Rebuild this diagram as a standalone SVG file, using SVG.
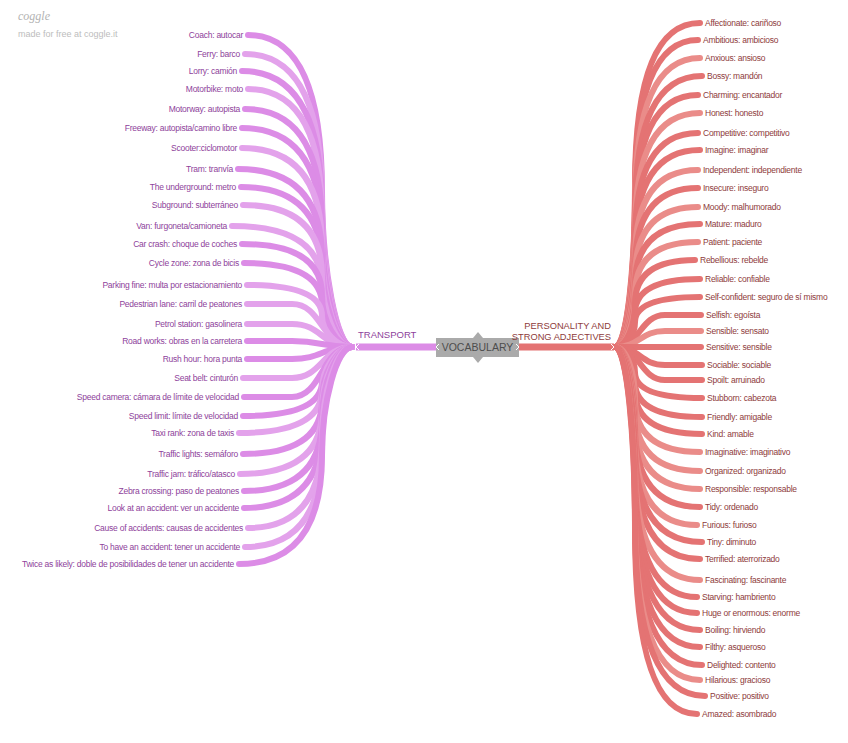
<svg xmlns="http://www.w3.org/2000/svg" width="848" height="743" viewBox="0 0 848 743">
<style>
text{font-family:"Liberation Sans",Arial,sans-serif}
.lt{font-size:8.5px;letter-spacing:-0.25px;fill:#8e3f9b;text-anchor:end}
.rt{font-size:8.5px;letter-spacing:-0.25px;fill:#8e3b3b}
.lc{fill:none;stroke:#dc8ce6;stroke-width:6;stroke-linecap:round}
.lc2{fill:none;stroke:#e3a2eb;stroke-width:6;stroke-linecap:round}
.rc{fill:none;stroke:#e47373;stroke-width:6;stroke-linecap:round}
.rc2{fill:none;stroke:#ea8c89;stroke-width:6;stroke-linecap:round}
.chev{fill:none;stroke:#fff;stroke-width:1}
</style>
<rect width="848" height="743" fill="#fff"/>
<g id="logo">
<text x="18" y="20" style="font-family:'Liberation Serif',serif;font-style:italic;font-size:12px;fill:#b3b3b3">coggle</text>
<text x="18" y="37" style="font-size:9px;fill:#bdbdbd">made for free at coggle.it</text>
</g>
<g id="connectors">
<path d="M436 347 L356 347" style="fill:none;stroke:#dc8ce6;stroke-width:7"/>
<path d="M519 347 L614 347" style="fill:none;stroke:#e47373;stroke-width:7"/>
<path class="lc" d="M352 347 C337 347 322 269 322 191 Q322 35 248 35"/>
<path class="lc2" d="M352 347 C337 347 322 273.75 322 200.5 Q322 54 245 54"/>
<path class="lc" d="M352 347 C337 347 322 278 322 209 Q322 71 242 71"/>
<path class="lc2" d="M352 347 C337 347 322 282.5 322 218 Q322 89 248 89"/>
<path class="lc" d="M352 347 C337 347 322 287.5 322 228 Q322 109 245 109"/>
<path class="lc" d="M352 347 C337 347 322 292.25 322 237.5 Q322 128 242 128"/>
<path class="lc2" d="M352 347 C337 347 322 297.25 322 247.5 Q322 148 242 148"/>
<path class="lc" d="M352 347 C337 347 322 302.5 322 258 Q322 169 238 169"/>
<path class="lc" d="M352 347 C337 347 322 307 322 267 Q322 187 241 187"/>
<path class="lc2" d="M352 347 C337 347 322 311.5 322 276 Q322 205 243 205"/>
<path class="lc2" d="M352 347 C337 347 322 316.75 322 286.5 Q322 226 232 226"/>
<path class="lc" d="M352 347 C337 347 322 321.25 322 295.5 Q322 244 242 244"/>
<path class="lc" d="M352 347 C337 347 322 326 322 305 Q322 263 244 263"/>
<path class="lc2" d="M352 347 C337 347 322 331.5 322 316 Q322 285 247 285"/>
<path class="lc2" d="M352 347 C322 347 322 304 292 304 L247 304"/>
<path class="lc2" d="M352 347 C322 347 322 324 292 324 L247 324"/>
<path class="lc" d="M352 347 C322 347 322 341 292 341 L247 341"/>
<path class="lc" d="M352 347 C322 347 322 359 292 359 L247 359"/>
<path class="lc2" d="M352 347 C322 347 322 378 292 378 L243 378"/>
<path class="lc" d="M352 347 C322 347 322 397 292 397 L244 397"/>
<path class="lc" d="M352 347 C337 347 322 364.25 322 381.5 Q322 416 243 416"/>
<path class="lc2" d="M352 347 C337 347 322 368.5 322 390 Q322 433 239 433"/>
<path class="lc" d="M352 347 C337 347 322 373.75 322 400.5 Q322 454 243 454"/>
<path class="lc2" d="M352 347 C337 347 322 378.75 322 410.5 Q322 474 240 474"/>
<path class="lc" d="M352 347 C337 347 322 383 322 419 Q322 491 244 491"/>
<path class="lc" d="M352 347 C337 347 322 387.25 322 427.5 Q322 508 244 508"/>
<path class="lc2" d="M352 347 C337 347 322 392.25 322 437.5 Q322 528 248 528"/>
<path class="lc2" d="M352 347 C337 347 322 397 322 447 Q322 547 245 547"/>
<path class="lc" d="M352 347 C337 347 322 401.25 322 455.5 Q322 564 239 564"/>
<path class="rc" d="M615 347 C627 347 635 266 635 185 Q635 23 700 23"/>
<path class="rc" d="M615 347 C627 347 635 270.25 635 193.5 Q635 40 698 40"/>
<path class="rc2" d="M615 347 C627 347 635 274.75 635 202.5 Q635 58 700 58"/>
<path class="rc" d="M615 347 C627 347 635 279.25 635 211.5 Q635 76 702 76"/>
<path class="rc" d="M615 347 C627 347 635 284 635 221 Q635 95 698 95"/>
<path class="rc2" d="M615 347 C627 347 635 288.5 635 230 Q635 113 700 113"/>
<path class="rc" d="M615 347 C627 347 635 293.5 635 240 Q635 133 698 133"/>
<path class="rc" d="M615 347 C627 347 635 297.75 635 248.5 Q635 150 700 150"/>
<path class="rc2" d="M615 347 C627 347 635 302.75 635 258.5 Q635 170 698 170"/>
<path class="rc" d="M615 347 C627 347 635 307.25 635 267.5 Q635 188 698 188"/>
<path class="rc2" d="M615 347 C627 347 635 312 635 277 Q635 207 698 207"/>
<path class="rc" d="M615 347 C627 347 635 316.25 635 285.5 Q635 224 700 224"/>
<path class="rc2" d="M615 347 C627 347 635 320.75 635 294.5 Q635 242 698 242"/>
<path class="rc" d="M615 347 C627 347 635 325.25 635 303.5 Q635 260 695 260"/>
<path class="rc" d="M615 347 C627 347 635 330 635 313 Q635 279 700 279"/>
<path class="rc" d="M615 347 C627 347 635 334.5 635 322 Q635 297 700 297"/>
<path class="rc" d="M615 347 C640 347 640 315 665 315 L701 315"/>
<path class="rc2" d="M615 347 C640 347 640 331 665 331 L701 331"/>
<path class="rc" d="M615 347 L701 347"/>
<path class="rc" d="M615 347 C640 347 640 365 665 365 L702 365"/>
<path class="rc" d="M615 347 C640 347 640 380 665 380 L702 380"/>
<path class="rc" d="M615 347 C627 347 635 359.75 635 372.5 Q635 398 702 398"/>
<path class="rc" d="M615 347 C627 347 635 364.5 635 382 Q635 417 702 417"/>
<path class="rc" d="M615 347 C627 347 635 368.75 635 390.5 Q635 434 702 434"/>
<path class="rc2" d="M615 347 C627 347 635 373.25 635 399.5 Q635 452 700 452"/>
<path class="rc2" d="M615 347 C627 347 635 378 635 409 Q635 471 700 471"/>
<path class="rc2" d="M615 347 C627 347 635 382.5 635 418 Q635 489 700 489"/>
<path class="rc" d="M615 347 C627 347 635 387 635 427 Q635 507 700 507"/>
<path class="rc2" d="M615 347 C627 347 635 391.5 635 436 Q635 525 697 525"/>
<path class="rc" d="M615 347 C627 347 635 395.75 635 444.5 Q635 542 702 542"/>
<path class="rc" d="M615 347 C627 347 635 400 635 453 Q635 559 700 559"/>
<path class="rc2" d="M615 347 C627 347 635 405.25 635 463.5 Q635 580 700 580"/>
<path class="rc" d="M615 347 C627 347 635 409.5 635 472 Q635 597 697 597"/>
<path class="rc" d="M615 347 C627 347 635 413.5 635 480 Q635 613 697 613"/>
<path class="rc" d="M615 347 C627 347 635 417.75 635 488.5 Q635 630 700 630"/>
<path class="rc" d="M615 347 C627 347 635 422 635 497 Q635 647 700 647"/>
<path class="rc" d="M615 347 C627 347 635 426.5 635 506 Q635 665 702 665"/>
<path class="rc2" d="M615 347 C627 347 635 430.25 635 513.5 Q635 680 700 680"/>
<path class="rc" d="M615 347 C627 347 635 434.25 635 521.5 Q635 696 705 696"/>
<path class="rc" d="M615 347 C627 347 635 438.75 635 530.5 Q635 714 697 714"/>
<polyline class="chev" points="359,344 356,347 359,350"/>
<polyline class="chev" points="611,344 614,347 611,350"/>
</g>
<g id="vocabulary">
<rect x="436" y="338" width="83" height="19" fill="#aaaaaa"/>
<polygon points="473,338 478,332 483,338" fill="#aaaaaa"/>
<polygon points="473,357 478,363 483,357" fill="#aaaaaa"/>
<polyline class="chev" points="439,344 436,347 439,350"/>
<polyline class="chev" points="516,344 519,347 516,350"/>
<text x="477.5" y="351" style="font-size:10.5px;fill:#4d4d4d;text-anchor:middle">VOCABULARY</text>
</g>
<g id="transport"><text x="358" y="338" style="font-size:9.5px;fill:#8e3f9b">TRANSPORT</text></g>
<g id="personality"><text x="611" y="329" style="font-size:9.3px;fill:#8e3b3b;text-anchor:end">PERSONALITY AND</text><text x="611" y="340" style="font-size:9.3px;fill:#8e3b3b;text-anchor:end">STRONG ADJECTIVES</text></g>
<g id="l1"><text class="lt" x="243" y="38">Coach: autocar</text></g>
<g id="l2"><text class="lt" x="240" y="57">Ferry: barco</text></g>
<g id="l3"><text class="lt" x="237" y="74">Lorry: camión</text></g>
<g id="l4"><text class="lt" x="243" y="92">Motorbike: moto</text></g>
<g id="l5"><text class="lt" x="240" y="112">Motorway: autopista</text></g>
<g id="l6"><text class="lt" x="237" y="131">Freeway: autopista/camino libre</text></g>
<g id="l7"><text class="lt" x="237" y="151">Scooter:ciclomotor</text></g>
<g id="l8"><text class="lt" x="233" y="172">Tram: tranvía</text></g>
<g id="l9"><text class="lt" x="236" y="190">The underground: metro</text></g>
<g id="l10"><text class="lt" x="238" y="208">Subground: subterráneo</text></g>
<g id="l11"><text class="lt" x="227" y="229">Van: furgoneta/camioneta</text></g>
<g id="l12"><text class="lt" x="237" y="247">Car crash: choque de coches</text></g>
<g id="l13"><text class="lt" x="239" y="266">Cycle zone: zona de bicis</text></g>
<g id="l14"><text class="lt" x="242" y="288">Parking fine: multa por estacionamiento</text></g>
<g id="l15"><text class="lt" x="242" y="307">Pedestrian lane: carril de peatones</text></g>
<g id="l16"><text class="lt" x="242" y="327">Petrol station: gasolinera</text></g>
<g id="l17"><text class="lt" x="242" y="344">Road works: obras en la carretera</text></g>
<g id="l18"><text class="lt" x="242" y="362">Rush hour: hora punta</text></g>
<g id="l19"><text class="lt" x="238" y="381">Seat belt: cinturón</text></g>
<g id="l20"><text class="lt" x="239" y="400">Speed camera: cámara de límite de velocidad</text></g>
<g id="l21"><text class="lt" x="238" y="419">Speed limit: límite de velocidad</text></g>
<g id="l22"><text class="lt" x="234" y="436">Taxi rank: zona de taxis</text></g>
<g id="l23"><text class="lt" x="238" y="457">Traffic lights: semáforo</text></g>
<g id="l24"><text class="lt" x="235" y="477">Traffic jam: tráfico/atasco</text></g>
<g id="l25"><text class="lt" x="239" y="494">Zebra crossing: paso de peatones</text></g>
<g id="l26"><text class="lt" x="239" y="511">Look at an accident: ver un accidente</text></g>
<g id="l27"><text class="lt" x="243" y="531">Cause of accidents: causas de accidentes</text></g>
<g id="l28"><text class="lt" x="240" y="550">To have an accident: tener un accidente</text></g>
<g id="l29"><text class="lt" x="234" y="567">Twice as likely: doble de posibilidades de tener un accidente</text></g>
<g id="r1"><text class="rt" x="705" y="26">Affectionate: cariñoso</text></g>
<g id="r2"><text class="rt" x="703" y="43">Ambitious: ambicioso</text></g>
<g id="r3"><text class="rt" x="705" y="61">Anxious: ansioso</text></g>
<g id="r4"><text class="rt" x="707" y="79">Bossy: mandón</text></g>
<g id="r5"><text class="rt" x="703" y="98">Charming: encantador</text></g>
<g id="r6"><text class="rt" x="705" y="116">Honest: honesto</text></g>
<g id="r7"><text class="rt" x="703" y="136">Competitive: competitivo</text></g>
<g id="r8"><text class="rt" x="705" y="153">Imagine: imaginar</text></g>
<g id="r9"><text class="rt" x="703" y="173">Independent: independiente</text></g>
<g id="r10"><text class="rt" x="703" y="191">Insecure: inseguro</text></g>
<g id="r11"><text class="rt" x="703" y="210">Moody: malhumorado</text></g>
<g id="r12"><text class="rt" x="705" y="227">Mature: maduro</text></g>
<g id="r13"><text class="rt" x="703" y="245">Patient: paciente</text></g>
<g id="r14"><text class="rt" x="700" y="263">Rebellious: rebelde</text></g>
<g id="r15"><text class="rt" x="705" y="282">Reliable: confiable</text></g>
<g id="r16"><text class="rt" x="705" y="300">Self-confident: seguro de sí mismo</text></g>
<g id="r17"><text class="rt" x="706" y="318">Selfish: egoísta</text></g>
<g id="r18"><text class="rt" x="706" y="334">Sensible: sensato</text></g>
<g id="r19"><text class="rt" x="706" y="350">Sensitive: sensible</text></g>
<g id="r20"><text class="rt" x="707" y="368">Sociable: sociable</text></g>
<g id="r21"><text class="rt" x="707" y="383">Spoilt: arruinado</text></g>
<g id="r22"><text class="rt" x="707" y="401">Stubborn: cabezota</text></g>
<g id="r23"><text class="rt" x="707" y="420">Friendly: amigable</text></g>
<g id="r24"><text class="rt" x="707" y="437">Kind: amable</text></g>
<g id="r25"><text class="rt" x="705" y="455">Imaginative: imaginativo</text></g>
<g id="r26"><text class="rt" x="705" y="474">Organized: organizado</text></g>
<g id="r27"><text class="rt" x="705" y="492">Responsible: responsable</text></g>
<g id="r28"><text class="rt" x="705" y="510">Tidy: ordenado</text></g>
<g id="r29"><text class="rt" x="702" y="528">Furious: furioso</text></g>
<g id="r30"><text class="rt" x="707" y="545">Tiny: diminuto</text></g>
<g id="r31"><text class="rt" x="705" y="562">Terrified: aterrorizado</text></g>
<g id="r32"><text class="rt" x="705" y="583">Fascinating: fascinante</text></g>
<g id="r33"><text class="rt" x="702" y="600">Starving: hambriento</text></g>
<g id="r34"><text class="rt" x="702" y="616">Huge or enormous: enorme</text></g>
<g id="r35"><text class="rt" x="705" y="633">Boiling: hirviendo</text></g>
<g id="r36"><text class="rt" x="705" y="650">Filthy: asqueroso</text></g>
<g id="r37"><text class="rt" x="707" y="668">Delighted: contento</text></g>
<g id="r38"><text class="rt" x="705" y="683">Hilarious: gracioso</text></g>
<g id="r39"><text class="rt" x="710" y="699">Positive: positivo</text></g>
<g id="r40"><text class="rt" x="702" y="717">Amazed: asombrado</text></g>
</svg>
